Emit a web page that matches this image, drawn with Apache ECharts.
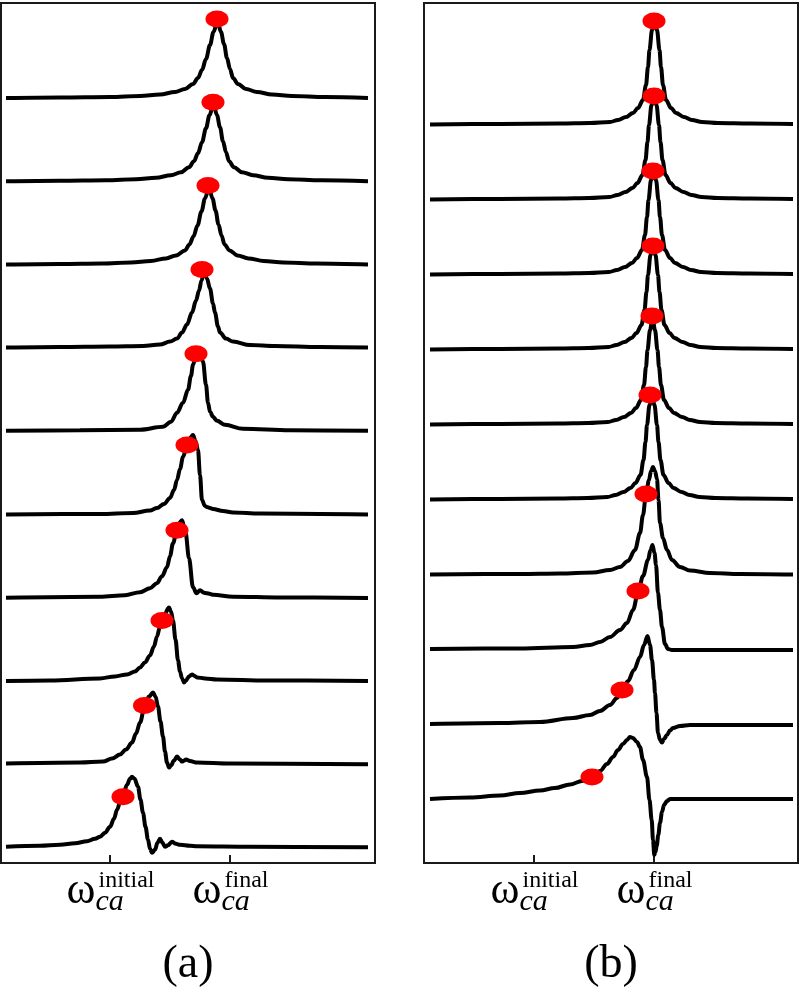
<!DOCTYPE html>
<html>
<head>
<meta charset="utf-8">
<script src="https://cdn.jsdelivr.net/npm/echarts@6/dist/echarts.min.js"></script>
<style>html,body{margin:0;padding:0;background:#fff}#chart{width:802px;height:992px}</style>
</head>
<body>
<div id="chart"></div>
<script>
// x: detuning in a.u. relative to omega_ca^initial (omega_ca^final = 120); y: response in a.u.
const TICKS = [0, 120];
const TICK_SUP = ['initial', 'final'];
const PANEL_TAGS = ['(a)', '(b)'];
const OFFSET_A = 83.2, OFFSET_B = 75;

// ---- panel (a): curves from top (0) to bottom (9)
const A0_x = [-104,-50,0,30,50,65,75,83,88,92,96,100,103.5,107.5,111,114,117,120,123,128,136,147,162,182,215,258];
const A0_y = [1,1.5,2,3,4.5,7,10,15,21,29,40,54,67,78,67,55,41,30,21,15,10,7,4.5,3,2,1];
const A1_x = [-104,-50,-4,26,46,61,71,79,84,88,92,96,99.5,103.5,107,110,113,116,119,124,132,143,158,178,211,258];
const A1_y = [1,1.5,2,3,4.5,7,10,15,21,29,40,54,67,78,67,55,41,30,21,15,10,7,4.5,3,2,1];
const A2_x = [-104,-50,-8,21,41,56,66,75,79.5,83.5,87.5,91.5,95,99,102.5,105.5,108.5,111.5,114.5,119.5,127.5,138.5,153.5,173.5,206.5,258];
const A2_y = [1,1.5,2,3,4.5,7,10,15,21,29,40,54,67,78,67,55,41,30,21,15,10,7,4.5,3,2,1];
const A3_x = [-104,-50,0,33,50,60,67,72,77,82,86,89,91.5,94,97,100,103,105,108,110,116,123,140,165,210,258];
const A3_y = [1,1.5,2,2.5,4,7,10,16,24,36,48,58,68,78,70,60,45,36,22,16,10,7,3.5,2.5,1.5,1];
const A4_x = [-104,-30,30,53,61,67,73,78,81,83,86,89,91,93,96,98,100,103,107,115,133,180,258];
const A4_y = [1,1.5,2,5,10,19,29,42,56,67,76,79,76,70,47,29,20,15,11,7,3,1.5,1];
const A5_x = [-104,-10,23,40,47,54,60,64,67,70,73,77,80,83,85.5,88,90,92,95,97,100,103,113,123,150,258];
const A5_y = [0.5,1,2,4.5,7,11,17,25,35,46,58,70,77,80,74,65,40,15,9,8,7,6,4,2.5,1.5,0.5];
const A6_x = [-104,-10,15,30,40,47,52,57,60,63,67,70,72,74,75.5,79,83,86.5,90,94,97,103,123,170,258];
const A6_y = [0.5,1.5,3,6,10,15,22,31,42,55,68,76,78,72,66,40,11,5,8,5.5,5,3.5,1.5,0.7,0.3];
const A7_x = [-104,-60,-10,5,17,25,30,35,40,44,47,50,52,55,59,61,63,65.5,68,70,72,74,76,79,82,84.5,87,95,107,157,258];
const A7_y = [0.5,1,3,5,7,10,14,19,26,35,45,55,61,68,74,70,61,42,21,10,3,-1,1,5,7,5.5,4,3,2,1,0.3];
const A8_x = [-104,-30,-7,2,10,16,22,26,30,35,39,43,45.5,48,50.5,53,55,57,59,61,64,67,70,72,74,76,80,87,120,258];
const A8_y = [1,2,3,6,10,15,22,31,42,60,68,72,68,58,43,28,13,2,-3,-1,4,8,5,3,4,5,3.5,2,1,0.3];
const A9_x = [-104,-70,-50,-35,-23,-15,-10,-5,0,4,7,10,13,17,20,22,24.5,28,30.5,33,35.5,38,40,42,45,47.5,50,52.5,55,58,62,66,70,80,87,140,258];
const A9_y = [1,2,3,4.5,6.5,9,11,15,21,29,38,45,52,63,69,71,69,61,48,35,21,8,-1,-5,-2,5,9,5,1,2.5,6,4,3,2,1.5,1,0.5];
// red markers of panel (a)
const DOT_A_x = [107,103,98,92,86,77,67,52,34.5,13];
const DOT_A_y = [80,80,80,79,78,70,68,61,59,51];

// ---- panel (b)
const B0_x = [-104,-34,26,56,76,84,92,99,104,109,112,114,115.5,118,120.5,123,125.5,127,129,132,137,142,150,158,168,184,216,259];
const B0_y = [0.5,1,1.5,2,3,5,8,12,17,25,40,58,75,95,106,95,75,58,40,25,17,12,8,5,3,2,1.5,1];
const B1_x = [-104,-34,25.5,55.5,75.5,83.5,91.5,98.5,103.5,108.5,111.5,113.5,115,117.5,120,122.5,125,126.5,128.5,131.5,136.5,141.5,149.5,157.5,167.5,183.5,215.5,259];
const B1_y = [0.5,1,1.5,2,3,5,8,12,17,25,40,58,75,95,106,95,75,58,40,25,17,12,8,5,3,2,1.5,1];
const B2_x = [-104,-34,25,55,75,83,91,98,103,108,111,113,114.5,117,119.5,122,124.5,126,128,131,136,141,149,157,167,183,215,259];
const B2_y = [0.5,1,1.5,2,3,5,8,12,17,25,40,58,75,95,106,95,75,58,40,25,17,12,8,5,3,2,1.5,1];
const B3_x = [-104,-34,24.5,54.5,74.5,82.5,90.5,97.5,102.5,107.5,110.5,112.5,114,116.5,119,121.5,124,125.5,127.5,130.5,135.5,140.5,148.5,156.5,166.5,182.5,214.5,259];
const B3_y = [0.5,1,1.5,2,3,5,8,12,17,25,40,58,75,95,106,95,75,58,40,25,17,12,8,5,3,2,1.5,1];
const B4_x = [-104,-34,24,54,74,82,90,97,102,107,110,112,113.5,116,118.5,121,123.5,125,127,130,135,140,148,156,166,182,214,259];
const B4_y = [0.5,1,1.5,2,3,5,8,12,17,25,40,58,75,95,107,95,75,58,40,25,17,12,8,5,3,2,1.5,1];
const B5_x = [-104,-34,23.5,53.5,73.5,81.5,89.5,96.5,101.5,106.5,109.5,111.5,113,115.5,118,120.5,123,124.5,126.5,129.5,134.5,139.5,147.5,155.5,165.5,181.5,213.5,259];
const B5_y = [0.5,1,1.5,2,3,5,8,12,17,25,40,58,75,95,106,95,75,58,40,25,17,12,8,5,3,2,1.5,1];
const B6_x = [-104,-14,26,59,76,86,94,101,106,109,112,115,117,119,121,123,124.5,126,129,133,138,146,156,176,206,259];
const B6_y = [0.5,1,1.5,2.5,5,8,14,25,42,60,81,95,104,108,104,96,75,52,37,25,15,8,4.5,2,1,0.5];
const B7_x = [-104,-14,39,56,66,76,86,93,99,104,109,114,116.5,118.5,120.5,122,124,126,128,131,134,138,166,259];
const B7_y = [1,1.5,3,5,8,13,20,27,40,57,74,90,100,105,97,85,57,40,23,6,1,0,0,0];
const B8_x = [-104,-34,6,39,56,66,76,83,88,94,100,106,110,113.5,116,118,120,121,122.5,124,126,128,130,133,136,139,146,156,259];
const B8_y = [1,2,3,7,10,14,20,27,34,44,55,68,80,89,80,65,45,32,12,-8,-15,-17.5,-14,-10,-5.5,-3,-1,0,0];
const B9_x = [-104,-64,-34,-14,6,21,36,48,58,66,73,79,84,89,93,96,99,103,106,109,113,115.5,117.7,119,120.3,121.5,122.7,124.3,126,128,130,133,136,156,259];
const B9_y = [1,2.5,4.5,7,9.5,12,15.5,19,23,29,36,43,50,56,60,63,62,58,53,40,23,0,-20,-40,-55,-52,-46,-35,-23,-12,-5,-1,1,1,1];
// red markers of panel (b)
const DOT_B_x = [120,120,119,119,118,116,112,104,88,58];
const DOT_B_y = [104,104,104,104,109,105,81,59,35,23];

const CURVES_A = [[A0_x,A0_y],[A1_x,A1_y],[A2_x,A2_y],[A3_x,A3_y],[A4_x,A4_y],[A5_x,A5_y],[A6_x,A6_y],[A7_x,A7_y],[A8_x,A8_y],[A9_x,A9_y]];
const CURVES_B = [[B0_x,B0_y],[B1_x,B1_y],[B2_x,B2_y],[B3_x,B3_y],[B4_x,B4_y],[B5_x,B5_y],[B6_x,B6_y],[B7_x,B7_y],[B8_x,B8_y],[B9_x,B9_y]];

const FONT = '"Liberation Serif","DejaVu Serif",serif';
const chart = echarts.init(document.getElementById('chart'), null, {renderer: 'canvas'});

function lineSeries(curves, offset, idx) {
  const n = curves.length;
  return curves.map((c, t) => ({
    type: 'line', xAxisIndex: idx, yAxisIndex: idx,
    data: c[0].map((x, i) => [x, c[1][i] + (n - 1 - t) * offset]),
    showSymbol: false, smooth: 0.35, smoothMonotone: 'x',
    lineStyle: {color: '#000', width: 4}, z: 2, silent: true
  }));
}
function dotSeries(xs, ys, offset, idx) {
  const n = xs.length;
  return {
    type: 'scatter', xAxisIndex: idx, yAxisIndex: idx,
    data: xs.map((x, t) => [x, ys[t] + (n - 1 - t) * offset]),
    symbol: 'circle', symbolSize: [23, 17],
    itemStyle: {color: '#ff0000', opacity: 1}, z: 5, silent: true
  };
}
function xAxis(idx, min, max) {
  return {
    type: 'value', gridIndex: idx, min: min, max: max, position: 'bottom',
    axisLine: {show: false, onZero: false}, splitLine: {show: false},
    axisLabel: {show: false},
    axisTick: {show: true, inside: true, length: 8, customValues: TICKS, lineStyle: {color: '#1a1a1a', width: 2}}
  };
}
function yAxis(idx, min, max) {
  return {type: 'value', gridIndex: idx, min: min, max: max, show: false, splitLine: {show: false}};
}

chart.setOption({
  animation: false,
  backgroundColor: '#fff',
  grid: [
    {left: 1, top: 3, width: 374, height: 860, show: true, borderColor: '#1a1a1a', borderWidth: 2, backgroundColor: 'transparent'},
    {left: 424, top: 3, width: 374, height: 860, show: true, borderColor: '#1a1a1a', borderWidth: 2, backgroundColor: 'transparent'}
  ],
  xAxis: [xAxis(0, -109, 265), xAxis(1, -110, 264)],
  yAxis: [yAxis(0, -15.2, 844.8), yAxis(1, -63, 797)],
  series: [].concat(
    lineSeries(CURVES_A, OFFSET_A, 0),
    lineSeries(CURVES_B, OFFSET_B, 1),
    [dotSeries(DOT_A_x, DOT_A_y, OFFSET_A, 0), dotSeries(DOT_B_x, DOT_B_y, OFFSET_B, 1)]
  )
});

// ---- tick labels (omega_ca^initial / omega_ca^final) and panel tags
const mctx = document.createElement('canvas').getContext('2d');
function tw(text, font) { mctx.font = font; return mctx.measureText(text).width; }
const F_OMEGA = '44px ' + FONT, F_SUP = '24px ' + FONT, F_SUB = 'italic 30px ' + FONT, F_TAG = '46px ' + FONT;
const graphics = [];
[0, 1].forEach(idx => {
  TICKS.forEach((v, k) => {
    const cx = chart.convertToPixel({xAxisIndex: idx}, v);
    const wO = tw('ω', F_OMEGA), wS = tw(TICK_SUP[k], F_SUP), wB = tw('ca', F_SUB);
    const gap = 2;
    const total = wO + gap + Math.max(wS, wB);
    const left = cx - total / 2;
    graphics.push({type: 'text', x: left, y: 906 - 0.34 * 44, style: {text: 'ω', font: F_OMEGA, fill: '#000', align: 'left', verticalAlign: 'middle'}});
    graphics.push({type: 'text', x: left + wO + gap + 1, y: 889 - 0.34 * 24, style: {text: TICK_SUP[k], font: F_SUP, fill: '#000', align: 'left', verticalAlign: 'middle'}});
    graphics.push({type: 'text', x: left + wO + gap - 2, y: 912 - 0.34 * 30, style: {text: 'ca', font: F_SUB, fill: '#000', align: 'left', verticalAlign: 'middle'}});
  });
  const ax = chart.getModel().getComponent('xAxis', idx);
  const mid = chart.convertToPixel({xAxisIndex: idx}, (ax.get('min') + ax.get('max')) / 2);
  graphics.push({type: 'text', x: mid, y: 981 - 0.34 * 46, style: {text: PANEL_TAGS[idx], font: F_TAG, fill: '#000', align: 'center', verticalAlign: 'middle'}});
});
chart.setOption({graphic: graphics});
</script>
</body>
</html>
